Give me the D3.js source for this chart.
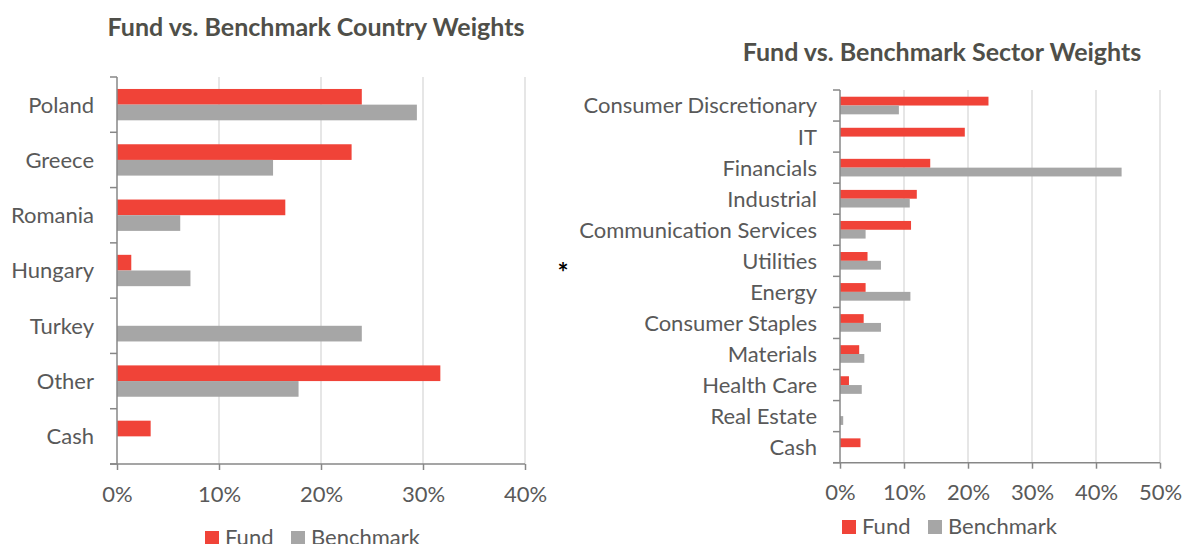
<!DOCTYPE html>
<html>
<head>
<meta charset="utf-8">
<script src="https://cdn.jsdelivr.net/npm/d3@7"></script>
<style>
  body { margin: 0; background: #fff; }
  svg { display: block; }
</style>
</head>
<body>
<svg></svg>
<script>
const countries = ["Poland", "Greece", "Romania", "Hungary", "Turkey", "Other", "Cash"];
const countryFund = [24.0, 23.0, 16.5, 1.4, 0, 31.7, 3.3];
const countryBench = [29.4, 15.3, 6.2, 7.2, 24.0, 17.8, 0];

const sectors = ["Consumer Discretionary", "IT", "Financials", "Industrial", "Communication Services",
  "Utilities", "Energy", "Consumer Staples", "Materials", "Health Care", "Real Estate", "Cash"];
const sectorFund = [23.2, 19.5, 14.1, 12.0, 11.1, 4.3, 4.0, 3.7, 3.0, 1.4, 0, 3.2];
const sectorBench = [9.2, 0, 44.0, 10.9, 4.0, 6.4, 11.0, 6.4, 3.8, 3.4, 0.5, 0];

const seriesNames = ["Fund", "Benchmark"];
const countryTicks = [0, 10, 20, 30, 40];
const sectorTicks = [0, 10, 20, 30, 40, 50];

const width = 1182, height = 544;
const red = "#f04338", grey = "#a6a6a6", textCol = "#595959", titleCol = "#4f4f49",
      axisCol = "#878787", gridCol = "#d9d9d9";
const font = "Lato, 'Open Sans', sans-serif";

const svg = d3.select("svg")
    .attr("width", width)
    .attr("height", height)
    .style("font-family", font);

function drawChart(opt) {
    const g = svg.append("g");
    const x = d3.scaleLinear().domain([0, opt.max]).range([opt.left, opt.right]);
    const y = d3.scaleBand().domain(opt.cats).range([opt.top, opt.bottom])
        .paddingInner(0.433).paddingOuter(0.2165);
    const inner = d3.scaleBand().domain(seriesNames).range([0, y.bandwidth()]);
    const step = y.step();

    // gridlines
    g.selectAll(".grid")
        .data(opt.ticks.slice(1))
        .join("line")
        .attr("x1", d => x(d)).attr("x2", d => x(d))
        .attr("y1", opt.top).attr("y2", opt.bottom)
        .attr("stroke", gridCol).attr("stroke-width", 1.3);

    // bars
    const rows = opt.cats.map((c, i) => ({ cat: c, vals: [opt.fund[i], opt.bench[i]] }));
    g.selectAll(".row")
        .data(rows)
        .join("g")
        .attr("transform", d => `translate(0,${y(d.cat)})`)
        .selectAll("rect")
        .data(d => d.vals.map((v, j) => ({ s: seriesNames[j], v })))
        .join("rect")
        .filter(d => d.v > 0)
        .attr("x", x(0))
        .attr("y", d => inner(d.s))
        .attr("width", d => x(d.v) - x(0))
        .attr("height", inner.bandwidth())
        .attr("fill", d => d.s === "Fund" ? red : grey);

    // vertical axis with category boundary ticks
    g.append("line")
        .attr("x1", x(0)).attr("x2", x(0))
        .attr("y1", opt.top).attr("y2", opt.bottom)
        .attr("stroke", axisCol).attr("stroke-width", 1.5);
    g.selectAll(".ctick")
        .data(d3.range(opt.cats.length + 1))
        .join("line")
        .attr("x1", x(0) - 7).attr("x2", x(0))
        .attr("y1", i => opt.top + i * step).attr("y2", i => opt.top + i * step)
        .attr("stroke", axisCol).attr("stroke-width", 1.5);

    // category labels
    g.selectAll(".clabel")
        .data(opt.cats)
        .join("text")
        .attr("x", x(0) - 23)
        .attr("y", d => y(d) + y.bandwidth() / 2)
        .attr("dy", "0.36em")
        .attr("text-anchor", "end")
        .attr("font-size", 22)
        .attr("fill", textCol)
        .text(d => d);

    // bottom axis
    const axis = g.append("g")
        .attr("transform", `translate(0,${opt.bottom})`)
        .call(d3.axisBottom(x).tickValues(opt.ticks).tickSize(6).tickSizeOuter(0)
            .tickFormat(d => d + "%"));
    axis.select(".domain").remove();
    axis.selectAll(".tick line").attr("stroke", axisCol).attr("stroke-width", 1.5);
    axis.selectAll(".tick text")
        .attr("y", 22).attr("dy", "0.71em")
        .attr("font-family", font).attr("font-size", 22).attr("fill", textCol);
    g.append("line")
        .attr("x1", x(0) - 7).attr("x2", x(opt.max))
        .attr("y1", opt.bottom).attr("y2", opt.bottom)
        .attr("stroke", axisCol).attr("stroke-width", 1.5);

    // title
    g.append("text")
        .attr("x", opt.titleX).attr("y", opt.titleY)
        .attr("text-anchor", "middle")
        .attr("font-size", 25).attr("font-weight", "bold")
        .attr("fill", titleCol)
        .text(opt.title);

    // legend
    const leg = g.append("g").attr("transform", `translate(${opt.legX},${opt.legY})`);
    const offsets = [0, 86];
    seriesNames.forEach((s, j) => {
        leg.append("rect")
            .attr("x", offsets[j]).attr("y", -14)
            .attr("width", 14).attr("height", 14)
            .attr("fill", j === 0 ? red : grey);
        leg.append("text")
            .attr("x", offsets[j] + 20).attr("y", 0)
            .attr("font-size", 22).attr("fill", textCol)
            .text(s);
    });
}

drawChart({
    cats: countries, fund: countryFund, bench: countryBench, ticks: countryTicks, max: 40,
    left: 117, right: 525, top: 77, bottom: 464,
    title: "Fund vs. Benchmark Country Weights", titleX: 316, titleY: 36,
    legX: 205, legY: 545
});

drawChart({
    cats: sectors, fund: sectorFund, bench: sectorBench, ticks: sectorTicks, max: 50,
    left: 840, right: 1160, top: 90, bottom: 462.7,
    title: "Fund vs. Benchmark Sector Weights", titleX: 942, titleY: 61,
    legX: 842, legY: 534
});

svg.append("text")
    .attr("x", 563).attr("y", 282)
    .attr("text-anchor", "middle")
    .attr("font-size", 26).attr("font-weight", "bold").attr("fill", "#000")
    .text("*");
</script>
</body>
</html>
